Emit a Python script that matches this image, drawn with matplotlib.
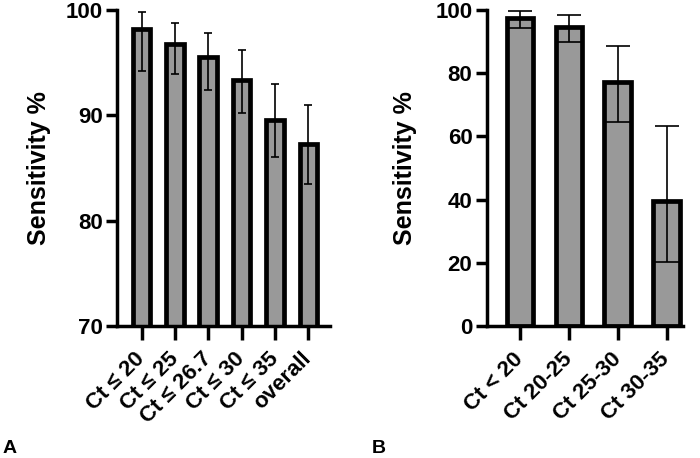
import numpy as np
import matplotlib
matplotlib.use('Agg')
import matplotlib.pyplot as plt

plt.rcParams['font.family'] = ['Liberation Sans', 'DejaVu Sans']
plt.rcParams['font.weight'] = 'bold'

# panel A: cumulative Ct cut-offs
labels_a = ['Ct ≤ 20', 'Ct ≤ 25', 'Ct ≤ 26.7', 'Ct ≤ 30', 'Ct ≤ 35', 'overall']
sens_a = [98.2, 96.8, 95.5, 93.4, 89.6, 87.3]
upper_a = [99.8, 98.8, 97.8, 96.2, 93.0, 91.0]
lower_a = [94.2, 93.9, 92.4, 90.2, 86.0, 83.5]

# panel B: Ct ranges
labels_b = ['Ct < 20', 'Ct 20-25', 'Ct 25-30', 'Ct 30-35']
sens_b = [97.5, 94.6, 77.3, 39.6]
upper_b = [99.7, 98.5, 88.7, 63.4]
lower_b = [94.2, 89.8, 64.5, 20.3]

W, H = 700, 458
fig = plt.figure(figsize=(W / 100, H / 100), dpi=100)


def panel(rect, labels, vals, lo, hi, ylim, yticks, xlim, width, capsize, label_x):
    ax = fig.add_axes(rect)
    x = np.arange(len(vals))
    vals = np.array(vals)
    err = [vals - np.array(lo), np.array(hi) - vals]
    ax.bar(x, vals, width=width, color='#999999', edgecolor='black', linewidth=3.4)
    ax.errorbar(x, vals, yerr=err, fmt='none', ecolor='black', elinewidth=1.2,
                capsize=capsize, capthick=1.2, zorder=3)
    ax.set_ylim(*ylim)
    ax.set_xlim(*xlim)
    ax.set_yticks(yticks)
    ax.set_xticks(x)
    ax.set_xticklabels(labels, rotation=45, ha='right', va='center',
                       rotation_mode='anchor', fontsize=16, fontweight='bold')
    for t in ax.get_yticklabels():
        t.set_fontsize(16)
        t.set_fontweight('bold')
    ax.spines['top'].set_visible(False)
    ax.spines['right'].set_visible(False)
    for s in ('left', 'bottom'):
        ax.spines[s].set_linewidth(2.5)
    ax.tick_params(axis='y', length=7.8, width=2.5, pad=2.5)
    ax.tick_params(axis='x', length=10, width=2.5, pad=11.5)
    ax.set_ylabel('Sensitivity %', fontsize=18, fontweight='bold')
    ax.yaxis.set_label_coords(label_x, 0.5)
    return ax


bottom = 1 - 326 / H
height = (326 - 10) / H

panel([117 / W, bottom, (330 - 117) / W, height], labels_a, sens_a, lower_a, upper_a,
      (70, 100), [70, 80, 90, 100], (-0.74, 5.65), 0.53, 4 * 0.72, -0.31)
panel([486.7 / W, bottom, (682.7 - 486.7) / W, height], labels_b, sens_b, lower_b, upper_b,
      (0, 100), [0, 20, 40, 60, 80, 100], (-0.68, 3.33), 0.54, 12 * 0.72, -0.356)

fig.text(3 / W, 1 / H, 'A', fontsize=14, fontweight='bold', va='bottom')
fig.text(372 / W, 1 / H, 'B', fontsize=14, fontweight='bold', va='bottom')

fig.savefig('out.png', dpi=100)
